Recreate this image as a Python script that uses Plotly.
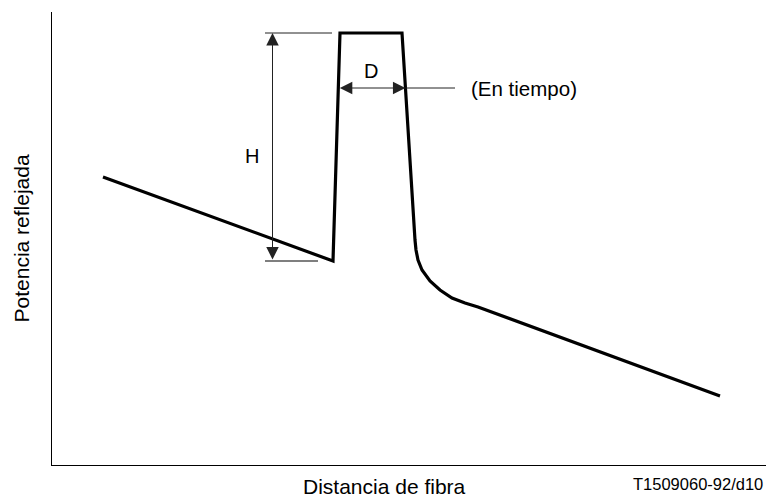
import plotly.graph_objects as go

# OTDR-style trace: distance along fibre vs reflected power (arbitrary units)
distancia = [51, 281, 288, 350, 363, 364, 366, 370, 378, 388, 400, 413, 426, 668]
potencia = [288, 204, 432, 432, 225, 215, 205, 195, 184, 175, 167, 162, 158, 69]

# annotation levels / positions (same arbitrary units)
nivel_D = 377          # height of the D (pulse width) arrow
x_H = 220.5            # horizontal position of the H arrow
ext_izq = 213          # left end of the extension lines
ext_fin_inf = 266      # right end of lower extension line
ext_fin_sup = 280      # right end of upper extension line
fin_tiempo = 403       # end of the "(En tiempo)" leader line

FONT = "Liberation Sans, Arial, sans-serif"
LC = "#222"

def interp_x(p0, p1, y):
    (x0, y0), (x1, y1) = p0, p1
    return x0 + (x1 - x0) * (y - y0) / (y1 - y0)

# edges of the reflection peak at the D level, derived from the data
x_izq = interp_x((distancia[1], potencia[1]), (distancia[2], potencia[2]), nivel_D)
x_der = interp_x((distancia[3], potencia[3]), (distancia[4], potencia[4]), nivel_D)
h_inf = potencia[1]
h_sup = potencia[2]

fig = go.Figure()
fig.add_trace(go.Scatter(
    x=distancia, y=potencia, mode="lines",
    line=dict(color="black", width=3.2),
    hoverinfo="skip", showlegend=False,
))

shapes = [
    dict(type="line", xref="x", yref="y", x0=ext_izq, x1=ext_fin_sup, y0=h_sup, y1=h_sup,
         line=dict(color=LC, width=1)),
    dict(type="line", xref="x", yref="y", x0=ext_izq, x1=ext_fin_inf, y0=h_inf, y1=h_inf,
         line=dict(color="#555", width=1.3)),
    dict(type="line", xref="x", yref="y", x0=x_der, x1=fin_tiempo, y0=nivel_D, y1=nivel_D,
         line=dict(color=LC, width=1)),
]

annotations = [
    # H double arrow
    dict(x=x_H, y=h_sup, ax=x_H, ay=h_inf, xref="x", yref="y", axref="x", ayref="y",
         text="", showarrow=True, arrowhead=2, arrowsize=2.5, arrowwidth=1,
         arrowcolor=LC, arrowside="end+start", standoff=0, startstandoff=0),
    # D double arrow
    dict(x=x_der, y=nivel_D, ax=x_izq, ay=nivel_D, xref="x", yref="y", axref="x", ayref="y",
         text="", showarrow=True, arrowhead=2, arrowsize=2.5, arrowwidth=1,
         arrowcolor=LC, arrowside="end+start", standoff=0, startstandoff=0),
    dict(x=199.5, y=309, xref="x", yref="y", text="H", showarrow=False,
         font=dict(family=FONT, size=20, color="black")),
    dict(x=319, y=394.5, xref="x", yref="y", text="D", showarrow=False,
         font=dict(family=FONT, size=20, color="black")),
    dict(x=417, y=377, xref="x", yref="y", text="(En tiempo)", showarrow=False,
         xanchor="left", yanchor="middle",
         font=dict(family=FONT, size=20.5, color="black")),
    # axis titles
    dict(x=(384.5 - 52) / 714, y=(465 - 486) / 453, xref="paper", yref="paper",
         text="Distancia de fibra", showarrow=False, xanchor="center", yanchor="middle",
         font=dict(family=FONT, size=21, color="black")),
    dict(x=(20.5 - 52) / 714, y=(465 - 239) / 453, xref="paper", yref="paper",
         text="Potencia reflejada", showarrow=False, textangle=-90,
         xanchor="center", yanchor="middle",
         font=dict(family=FONT, size=21, color="black")),
    dict(x=(765 - 52) / 714, y=(465 - 484) / 453, xref="paper", yref="paper",
         text="T1509060-92/d10", showarrow=False, xanchor="right", yanchor="middle",
         font=dict(family=FONT, size=16.5, color="black")),
]

fig.update_layout(
    width=766, height=497,
    margin=dict(l=52, r=0, t=12, b=32, pad=0),
    paper_bgcolor="white", plot_bgcolor="white",
    shapes=shapes, annotations=annotations,
    xaxis=dict(range=[0, 714], showgrid=False, zeroline=False, showticklabels=False,
               ticks="", showline=True, linecolor="black", linewidth=1, fixedrange=True),
    yaxis=dict(range=[0, 453], showgrid=False, zeroline=False, showticklabels=False,
               ticks="", showline=True, linecolor="black", linewidth=1, fixedrange=True),
    font=dict(family=FONT),
)

fig.write_html("out.html", config=dict(displayModeBar=False),
               post_script="document.body.style.margin='0';document.body.style.overflow='hidden';")
